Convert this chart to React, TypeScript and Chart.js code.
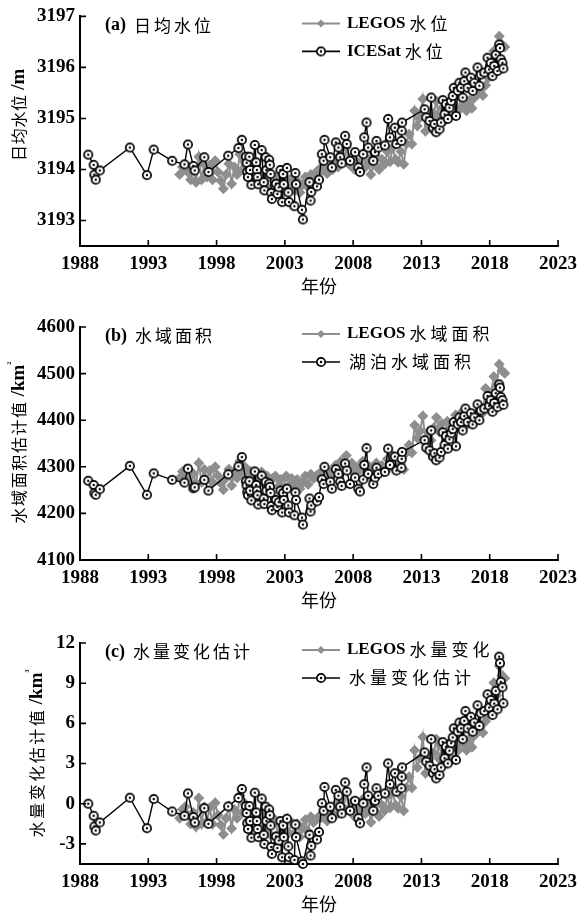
import React, { useEffect, useRef } from "react";
import { Chart, registerables } from "chart.js";
Chart.register(...registerables);

// ---------- tick labels ----------
const xTicks = [1988, 1993, 1998, 2003, 2008, 2013, 2018, 2023];
const levelTicks = [3193, 3194, 3195, 3196, 3197];
const areaTicks = [4100, 4200, 4300, 4400, 4500, 4600];
const volumeTicks = [-3, 0, 3, 6, 9, 12];

// ---------- ICESat / lake estimates (black circles) ----------
const icesatYears = [
  1988.6, 1989.0, 1989.05, 1989.15, 1989.45, 1991.65, 1992.9, 1993.4, 1994.75, 1995.65,
  1995.9, 1996.3, 1996.4, 1997.1, 1997.4, 1998.85, 1999.6, 1999.85, 2000.15, 2000.2,
  2000.25, 2000.3, 2000.4, 2000.45, 2000.55, 2000.8, 2000.9, 2000.95, 2001.0, 2001.05,
  2001.3, 2001.45, 2001.5, 2001.6, 2001.65, 2001.85, 2001.9, 2001.95, 2002.0, 2002.05,
  2002.35, 2002.45, 2002.55, 2002.68, 2002.8, 2002.87, 2002.92, 2003.15, 2003.25, 2003.3,
  2003.7, 2003.77, 2003.82, 2004.25, 2004.32, 2004.8, 2004.88, 2004.93, 2005.35, 2005.5,
  2005.71, 2005.83, 2005.9, 2006.32, 2006.44, 2006.73, 2006.92, 2007.05, 2007.16, 2007.41,
  2007.53, 2007.77, 2008.14, 2008.38, 2008.5, 2008.74, 2008.81, 2008.98, 2009.1, 2009.47,
  2009.6, 2009.71, 2009.83, 2010.32, 2010.56, 2010.69, 2011.05, 2011.17, 2011.53, 2011.55,
  2011.58, 2013.23, 2013.35, 2013.6, 2013.71, 2013.84, 2013.96, 2014.08, 2014.32, 2014.44,
  2014.56, 2014.69, 2014.8, 2014.93, 2015.05, 2015.17, 2015.29, 2015.37, 2015.53, 2015.66,
  2015.78, 2015.9, 2016.02, 2016.14, 2016.22, 2016.38, 2016.62, 2016.75, 2016.87, 2017.11,
  2017.24, 2017.35, 2017.6, 2017.84, 2017.96, 2018.08, 2018.2, 2018.33, 2018.44, 2018.57,
  2018.69, 2018.75, 2018.81, 2018.93, 2019.0,
];

const levelIcesat = [
  3194.29, 3194.09, 3193.90, 3193.80, 3193.98, 3194.43, 3193.89, 3194.39, 3194.17, 3194.10,
  3194.49, 3194.07, 3193.98, 3194.24, 3193.95, 3194.27, 3194.42, 3194.58, 3194.25, 3194.13,
  3193.95, 3193.85, 3194.25, 3193.99, 3193.70, 3194.48, 3194.14, 3193.99, 3193.85, 3193.71,
  3194.38, 3193.75, 3193.59, 3194.24, 3193.99, 3194.19, 3194.09, 3193.91, 3193.54, 3193.42,
  3193.72, 3193.52, 3193.65, 3193.99, 3193.36, 3193.91, 3193.71, 3194.03, 3193.55, 3193.36,
  3193.28, 3193.93, 3193.71, 3193.21, 3193.02, 3193.75, 3193.39, 3193.56, 3193.67, 3193.80,
  3194.30, 3194.17, 3194.58, 3194.24, 3194.04, 3194.53, 3194.43, 3194.24, 3194.12, 3194.66,
  3194.50, 3194.17, 3194.34, 3194.04, 3193.95, 3194.30, 3194.63, 3194.92, 3194.43, 3194.17,
  3194.34, 3194.56, 3194.43, 3194.47, 3194.99, 3194.63, 3194.82, 3194.50, 3194.56, 3194.76,
  3194.92, 3195.18, 3195.02, 3194.95, 3195.41, 3194.82, 3194.89, 3194.73, 3194.79, 3194.92,
  3195.36, 3195.08, 3195.28, 3194.99, 3195.21, 3195.34, 3195.44, 3195.60, 3195.05, 3195.54,
  3195.70, 3195.60, 3195.41, 3195.73, 3195.90, 3195.60, 3195.80, 3195.54, 3195.70, 3196.00,
  3195.64, 3195.86, 3195.90, 3196.19, 3195.96, 3196.09, 3195.83, 3196.03, 3196.25, 3195.93,
  3196.45, 3196.38, 3196.16, 3196.09, 3195.98,
];

const areaLake = [
  4270, 4261, 4244, 4240, 4252, 4302, 4240, 4286, 4272, 4266,
  4296, 4254, 4256, 4272, 4249, 4284, 4301, 4321, 4269, 4260,
  4246, 4239, 4269, 4249, 4228, 4290, 4261, 4249, 4239, 4219,
  4281, 4232, 4220, 4268, 4249, 4264, 4257, 4244, 4216, 4207,
  4229, 4214, 4224, 4249, 4202, 4244, 4229, 4253, 4217, 4202,
  4196, 4245, 4229, 4191, 4176, 4232, 4204, 4217, 4226, 4235,
  4273, 4263, 4300, 4268, 4253, 4295, 4285, 4268, 4259, 4307,
  4292, 4263, 4277, 4253, 4247, 4273, 4304, 4340, 4285, 4263,
  4277, 4298, 4285, 4289, 4339, 4304, 4322, 4292, 4298, 4317,
  4332, 4357, 4341, 4335, 4378, 4322, 4329, 4314, 4320, 4332,
  4374, 4347, 4366, 4339, 4359, 4372, 4381, 4396, 4344, 4391,
  4406, 4396, 4378, 4409, 4425, 4396, 4415, 4391, 4406, 4434,
  4400, 4421, 4425, 4452, 4431, 4443, 4418, 4437, 4458, 4428,
  4477, 4470, 4450, 4443, 4433,
];

const volumeEst = [
  0, -0.9, -1.7, -2.0, -1.4, 0.45, -1.83, 0.35, -0.58, -0.9,
  0.77, -1.0, -1.4, -0.33, -1.5, -0.2, 0.43, 1.1, -0.17, -0.69,
  -1.46, -1.89, -0.17, -1.29, -2.54, 0.82, -0.65, -1.29, -1.89, -2.49,
  0.39, -2.32, -3.01, -0.22, -1.29, -0.43, -0.86, -1.63, -3.23, -3.74,
  -2.45, -3.31, -2.75, -1.29, -4.0, -1.63, -2.49, -1.12, -3.18, -4.0,
  -4.2, -1.55, -2.49, -4.3, -4.5, -2.32, -3.87, -3.14, -2.67, -2.11,
  0.04, -0.52, 1.25, -0.22, -1.08, 1.03, 0.6, -0.22, -0.73, 1.59,
  0.9, -0.52, 0.22, -1.08, -1.46, 0.04, 1.46, 2.71, 0.6, -0.52,
  0.22, 1.16, 0.6, 0.77, 3.01, 1.46, 2.28, 0.9, 1.16, 2.02,
  2.71, 3.83, 3.14, 2.84, 4.82, 2.28, 2.58, 1.89, 2.15, 2.71,
  4.6, 3.4, 4.26, 3.01, 3.96, 4.52, 4.95, 5.63, 3.27, 5.38,
  6.06, 5.63, 4.82, 6.19, 6.92, 5.63, 6.49, 5.38, 6.06, 7.35,
  5.81, 6.75, 6.92, 8.17, 7.18, 7.74, 6.62, 7.48, 8.43, 7.05,
  10.98, 10.5, 9.1, 8.7, 7.5,
];

// ---------- LEGOS (grey diamonds) ----------
const legosYears = [
  1995.3, 1995.5, 1995.7, 1995.9, 1996.1, 1996.3, 1996.5, 1996.7, 1996.9, 1997.1,
  1997.3, 1997.5, 1997.7, 1997.9, 1998.1, 1998.3, 1998.5, 1998.7, 1998.9, 1999.1,
  1999.3, 1999.5, 1999.7, 1999.9, 2000.1, 2000.3, 2000.5, 2000.7, 2000.9, 2001.1,
  2001.3, 2001.5, 2001.7, 2001.9, 2002.1, 2002.3, 2002.5, 2002.7, 2002.9, 2003.1,
  2003.3, 2003.5, 2003.7, 2003.9, 2004.1, 2004.3, 2004.5, 2004.7, 2004.9, 2005.1,
  2005.3, 2005.5, 2005.7, 2005.9, 2006.1, 2006.3, 2006.5, 2006.7, 2006.9, 2007.1,
  2007.3, 2007.5, 2007.7, 2007.9, 2008.1, 2008.3, 2008.5, 2008.7, 2008.9, 2009.1,
  2009.3, 2009.5, 2009.7, 2009.9, 2010.1, 2010.3, 2010.5, 2010.7, 2010.9, 2011.1,
  2011.3, 2011.5, 2011.7, 2011.9, 2012.1, 2012.3, 2012.5, 2012.7, 2012.9, 2013.1,
  2013.3, 2013.5, 2013.7, 2013.9, 2014.1, 2014.3, 2014.5, 2014.7, 2014.9, 2015.1,
  2015.3, 2015.5, 2015.7, 2015.9, 2016.1, 2016.3, 2016.5, 2016.7, 2016.9, 2017.1,
  2017.3, 2017.5, 2017.7, 2017.9, 2018.1, 2018.3, 2018.5, 2018.7, 2018.9, 2019.1,
];

const levelLegos = [
  3193.90, 3194.05, 3194.10, 3193.95, 3193.80, 3194.00, 3193.75, 3194.25, 3193.80, 3194.10,
  3193.85, 3194.08, 3193.80, 3194.17, 3193.95, 3193.78, 3193.62, 3193.90, 3194.11, 3193.72,
  3194.05, 3193.90, 3194.30, 3194.00, 3194.15, 3193.85, 3194.05, 3193.80, 3193.95, 3193.75,
  3193.95, 3193.70, 3193.85, 3193.60, 3193.80, 3193.85, 3193.60, 3193.78, 3193.55, 3193.85,
  3193.62, 3193.80, 3193.60, 3193.78, 3193.55, 3193.70, 3193.85, 3193.65, 3193.90, 3193.80,
  3193.95, 3194.00, 3193.98, 3194.10, 3193.92, 3194.05, 3194.00, 3194.20, 3194.05, 3194.30,
  3194.15, 3194.43, 3194.10, 3194.25, 3194.00, 3194.15, 3194.10, 3194.30, 3194.05, 3194.20,
  3193.90, 3194.10, 3194.25, 3194.00, 3194.20, 3194.10, 3194.35, 3194.15, 3194.43, 3194.20,
  3194.14, 3194.35, 3194.10, 3194.50, 3194.69, 3194.50, 3195.15, 3194.85, 3195.02, 3195.38,
  3194.75, 3195.00, 3194.80, 3195.10, 3195.34, 3195.00, 3195.20, 3194.95, 3195.25, 3195.05,
  3195.21, 3195.40, 3195.15, 3195.45, 3195.25, 3195.15, 3195.35, 3195.20, 3195.41, 3195.47,
  3195.60, 3195.45, 3195.65, 3195.80, 3195.93, 3196.32, 3196.10, 3196.61, 3196.45, 3196.40,
];

const areaLegos = [
  4276, 4290, 4294, 4281, 4267, 4285, 4263, 4308, 4267, 4294,
  4272, 4292, 4267, 4300, 4281, 4265, 4251, 4276, 4295, 4260,
  4290, 4276, 4312, 4285, 4299, 4272, 4290, 4267, 4281, 4263,
  4289, 4266, 4280, 4257, 4275, 4280, 4257, 4273, 4253, 4280,
  4259, 4275, 4257, 4273, 4253, 4266, 4280, 4262, 4284, 4275,
  4281, 4285, 4283, 4294, 4278, 4290, 4285, 4303, 4290, 4312,
  4299, 4324, 4294, 4308, 4285, 4299, 4294, 4312, 4290, 4303,
  4276, 4294, 4308, 4285, 4303, 4294, 4317, 4299, 4324, 4303,
  4298, 4317, 4294, 4330, 4347, 4330, 4389, 4362, 4377, 4409,
  4353, 4375, 4357, 4384, 4406, 4375, 4393, 4371, 4398, 4380,
  4394, 4411, 4389, 4416, 4398, 4389, 4407, 4393, 4412, 4417,
  4429, 4416, 4468, 4447, 4459, 4494, 4474, 4520, 4506, 4501,
];

const volumeLegos = [
  -1.08, -0.43, -0.22, -0.86, -1.51, -0.65, -1.72, 0.43, -1.51, -0.22,
  -1.29, -0.3, -1.51, 0.08, -0.86, -1.59, -2.28, -1.08, -0.17, -1.85,
  -0.43, -1.08, 0.64, -0.65, 0.0, -1.29, -0.43, -1.51, -0.86, -1.72,
  -0.76, -1.84, -1.19, -2.27, -1.41, -1.19, -2.27, -1.49, -2.48, -1.19,
  -2.18, -1.41, -2.27, -1.49, -2.48, -1.84, -1.19, -2.05, -0.98, -1.41,
  -1.16, -0.95, -1.03, -0.52, -1.29, -0.73, -0.95, -0.09, -0.73, 0.34,
  -0.3, 0.9, -0.52, 0.13, -0.95, -0.3, -0.52, 0.34, -0.73, -0.09,
  -1.38, -0.52, 0.13, -0.95, -0.09, -0.52, 0.56, -0.3, 0.9, -0.09,
  -0.34, 0.56, -0.52, 1.2, 2.02, 1.2, 4.0, 2.71, 3.44, 4.99,
  2.28, 3.35, 2.49, 3.78, 4.82, 3.35, 4.21, 3.14, 4.43, 3.57,
  4.26, 5.07, 4.0, 5.29, 4.43, 4.0, 4.86, 4.21, 5.12, 5.38,
  5.93, 5.29, 6.15, 6.79, 7.35, 9.03, 8.08, 10.28, 9.59, 9.37,
];

// ---------- styling ----------
const LATIN = '"Liberation Serif", "Times New Roman", serif';
const CJK = '"Noto Sans CJK SC", sans-serif';
const GREY = "#8e8e8e";

type RunOpts = { latin: number; cjk: number; adv: number };

function isCJK(ch: string) {
  return ch.charCodeAt(0) >= 0x2e80;
}

function runWidth(ctx: CanvasRenderingContext2D, text: string, o: RunOpts) {
  let w = 0;
  let prevLatin = false;
  for (const ch of text) {
    if (isCJK(ch)) {
      if (prevLatin) w += 2;
      w += o.adv;
      prevLatin = false;
    } else if (ch === "²" || ch === "³") {
      ctx.font = `bold ${Math.round(o.latin * 0.5)}px ${LATIN}`;
      w += ctx.measureText(ch).width;
      prevLatin = true;
    } else {
      ctx.font = `bold ${o.latin}px ${LATIN}`;
      w += ctx.measureText(ch).width;
      prevLatin = true;
    }
  }
  return w;
}

function drawRun(ctx: CanvasRenderingContext2D, text: string, x: number, y: number, o: RunOpts) {
  let cx = x;
  let prevLatin = false;
  for (const ch of text) {
    if (isCJK(ch)) {
      if (prevLatin) cx += 2;
      ctx.font = `${o.cjk}px ${CJK}`;
      const w = ctx.measureText(ch).width;
      ctx.fillText(ch, cx + (o.adv - w) / 2, y);
      cx += o.adv;
      prevLatin = false;
    } else if (ch === "²" || ch === "³") {
      ctx.font = `bold ${Math.round(o.latin * 0.5)}px ${LATIN}`;
      ctx.fillText(ch, cx, y - o.latin * 0.42);
      cx += ctx.measureText(ch).width;
      prevLatin = true;
    } else {
      ctx.font = `bold ${o.latin}px ${LATIN}`;
      ctx.fillText(ch, cx, y);
      cx += ctx.measureText(ch).width;
      prevLatin = true;
    }
  }
  return cx - x;
}

function makeCirclePoint() {
  const c = document.createElement("canvas");
  c.width = 12;
  c.height = 12;
  const g = c.getContext("2d")!;
  g.beginPath();
  g.arc(6, 6, 4.2, 0, Math.PI * 2);
  g.fillStyle = "#fff";
  g.fill();
  g.lineWidth = 1.7;
  g.strokeStyle = "#000";
  g.stroke();
  g.beginPath();
  g.arc(6, 6, 1.2, 0, Math.PI * 2);
  g.fillStyle = "#000";
  g.fill();
  return c;
}

type PanelCfg = {
  key: string;
  top: number;
  height: number;
  padTop: number;
  min: number;
  max: number;
  ticks: number[];
  icesat: number[];
  legos: number[];
  title: string;
  yTitle: string;
  yTitleX: number;
  yTitleY: number;
  yAdv: number;
  legend: [string, string];
};

const panels: PanelCfg[] = [
  {
    key: "a", top: 0, height: 297, padTop: 15, min: 3192.5, max: 3197, ticks: levelTicks,
    icesat: levelIcesat, legos: levelLegos, title: "(a) 日均水位", yTitle: "日均水位 /m",
    yTitleX: 19, yTitleY: 115, yAdv: 16.7, legend: ["LEGOS水位", "ICESat水位"],
  },
  {
    key: "b", top: 300, height: 311, padTop: 27, min: 4100, max: 4600, ticks: areaTicks,
    icesat: areaLake, legos: areaLegos, title: "(b) 水域面积", yTitle: "水域面积估计值 /km²",
    yTitleX: 19, yTitleY: 143, yAdv: 17.6, legend: ["LEGOS水域面积", "湖泊水域面积"],
  },
  {
    key: "c", top: 615, height: 300, padTop: 28, min: -4.5, max: 12, ticks: volumeTicks,
    icesat: volumeEst, legos: volumeLegos, title: "(c) 水量变化估计", yTitle: "水量变化估计值 /km³",
    yTitleX: 37, yTitleY: 139, yAdv: 18.5, legend: ["LEGOS水量变化", "水量变化估计"],
  },
];

function decorPlugin(cfg: PanelCfg, circle: HTMLCanvasElement) {
  return {
    id: "decor" + cfg.key,
    afterDraw(chart: any) {
      const ctx: CanvasRenderingContext2D = chart.ctx;
      const { left, top, bottom } = chart.chartArea;
      const xs = chart.scales.x;
      const ys = chart.scales.y;
      ctx.save();
      // inward tick marks
      ctx.strokeStyle = "#000";
      ctx.lineWidth = 1.6;
      ctx.beginPath();
      for (const t of xs.ticks) {
        const px = xs.getPixelForValue(t.value);
        ctx.moveTo(px, bottom);
        ctx.lineTo(px, bottom - 6);
      }
      for (const t of ys.ticks) {
        const py = ys.getPixelForValue(t.value);
        ctx.moveTo(left, py);
        ctx.lineTo(left + 6, py);
      }
      ctx.stroke();

      ctx.fillStyle = "#000";
      ctx.textBaseline = "middle";
      ctx.textAlign = "left";
      // panel title
      drawRun(ctx, cfg.title, 105, top + 9, { latin: 18, cjk: 17, adv: 20 });

      // legend
      const r1 = top + 7;
      const r2 = top + 35;
      ctx.strokeStyle = GREY;
      ctx.lineWidth = 2;
      ctx.beginPath();
      ctx.moveTo(302, r1);
      ctx.lineTo(340, r1);
      ctx.stroke();
      ctx.fillStyle = GREY;
      ctx.beginPath();
      ctx.moveTo(321, r1 - 4);
      ctx.lineTo(325, r1);
      ctx.lineTo(321, r1 + 4);
      ctx.lineTo(317, r1);
      ctx.closePath();
      ctx.fill();
      ctx.strokeStyle = "#000";
      ctx.lineWidth = 1.6;
      ctx.beginPath();
      ctx.moveTo(302, r2);
      ctx.lineTo(340, r2);
      ctx.stroke();
      ctx.drawImage(circle, 321 - 6, r2 - 6);
      ctx.fillStyle = "#000";
      drawRun(ctx, cfg.legend[0], 347, r1, { latin: 17, cjk: 17, adv: 21 });
      drawRun(ctx, cfg.legend[1], 347, r2, { latin: 17, cjk: 17, adv: 21 });

      // y axis title (rotated)
      const yo = { latin: 19, cjk: 16, adv: cfg.yAdv };
      const w = runWidth(ctx, cfg.yTitle, yo);
      ctx.translate(cfg.yTitleX, cfg.yTitleY);
      ctx.rotate(-Math.PI / 2);
      drawRun(ctx, cfg.yTitle, -w / 2, 0, yo);
      ctx.restore();
    },
  };
}

function Panel({ cfg }: { cfg: PanelCfg }) {
  const ref = useRef<HTMLCanvasElement | null>(null);
  useEffect(() => {
    if (!ref.current) return;
    const circle = makeCirclePoint();
    const icesatData = icesatYears.map((x, i) => ({ x, y: cfg.icesat[i] }));
    const legosData = legosYears.map((x, i) => ({ x, y: cfg.legos[i] }));
    const tickFont = { family: LATIN, size: 19, weight: "bold" as const };
    const chart = new Chart(ref.current, {
      type: "line",
      data: {
        datasets: [
          {
            label: cfg.legend[1],
            data: icesatData,
            borderColor: "#000",
            borderWidth: 1.4,
            pointStyle: circle as any,
            pointRadius: 5,
            tension: 0,
            clip: false as any,
          },
          {
            label: cfg.legend[0],
            data: legosData,
            borderColor: GREY,
            backgroundColor: GREY,
            borderWidth: 2,
            pointStyle: "rectRot",
            pointRadius: 5.5,
            pointBorderWidth: 0,
            pointBackgroundColor: GREY,
            tension: 0,
            clip: false as any,
          },
        ],
      },
      options: {
        animation: false,
        responsive: false,
        maintainAspectRatio: false,
        events: [],
        layout: { padding: { top: cfg.padTop, right: 23, bottom: 0, left: 0 } },
        plugins: { legend: { display: false }, tooltip: { enabled: false } },
        scales: {
          x: {
            type: "linear",
            min: 1988,
            max: 2023,
            afterBuildTicks: (s: any) => {
              s.ticks = xTicks.map((v) => ({ value: v }));
            },
            afterFit: (s: any) => {
              s.height = 51;
            },
            grid: { display: true, drawOnChartArea: false, drawTicks: false },
            border: { display: true, color: "#000", width: 2 },
            ticks: { padding: 7, color: "#000", font: tickFont, callback: (v: any) => String(v), maxRotation: 0 },
            title: {
              display: true,
              text: "年份",
              color: "#000",
              font: { family: CJK, size: 18 },
              padding: { top: 0, bottom: 0 },
            },
          },
          y: {
            type: "linear",
            min: cfg.min,
            max: cfg.max,
            afterBuildTicks: (s: any) => {
              s.ticks = cfg.ticks.map((v) => ({ value: v }));
            },
            afterFit: (s: any) => {
              s.width = 80;
            },
            grid: { display: true, drawOnChartArea: false, drawTicks: false },
            border: { display: true, color: "#000", width: 2 },
            ticks: { padding: 5, color: "#000", font: tickFont, callback: (v: any) => String(v) },
          },
        },
      },
      plugins: [decorPlugin(cfg, circle)],
    } as any);
    return () => chart.destroy();
  }, [cfg]);
  return (
    <canvas
      ref={ref}
      width={584}
      height={cfg.height}
      style={{ position: "absolute", left: 0, top: cfg.top, width: 584, height: cfg.height }}
    />
  );
}

export default function App() {
  return (
    <div style={{ position: "absolute", left: 0, top: 0, width: 584, height: 915, background: "#fff", overflow: "hidden" }}>
      {panels.map((p) => (
        <Panel key={p.key} cfg={p} />
      ))}
    </div>
  );
}
